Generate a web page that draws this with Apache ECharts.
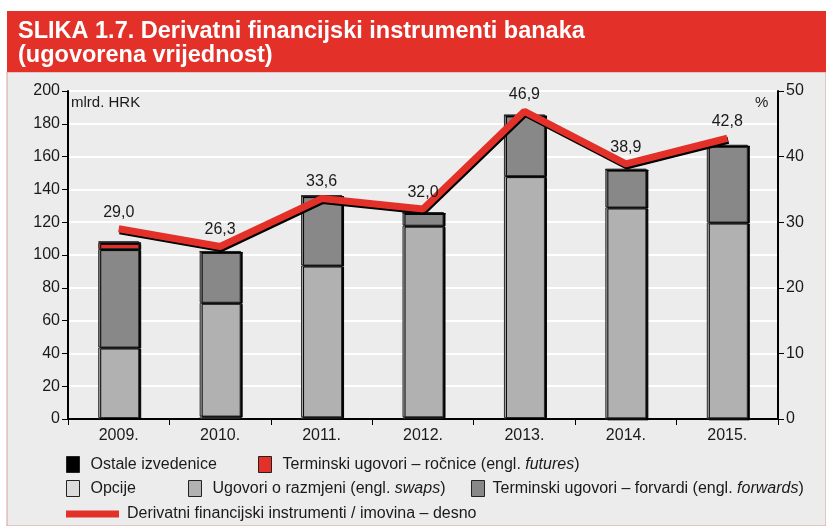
<!DOCTYPE html>
<html><head><meta charset="utf-8">
<script src="https://cdn.jsdelivr.net/npm/echarts@6/dist/echarts.min.js"></script>
<style>html,body{margin:0;padding:0;background:#fff}#c{width:826px;height:526px}</style>
</head><body><div id="c"></div>
<script>
const categories = ['2009.', '2010.', '2011.', '2012.', '2013.', '2014.', '2015.'];
const ostale   = [1.0, 0.3, 0.3, 0.3, 0.3, 0.3, 0.3];
const futures  = [3.8, 0.0, 0.0, 0.0, 0.0, 0.0, 0.0];
const opcije   = [0.6, 1.5, 1.0, 1.0, 0.6, 0.4, 0.4];
const swaps    = [43.0, 69.4, 92.6, 116.9, 147.5, 128.6, 119.4];
const forwards = [60.0, 31.1, 42.3, 7.8, 37.0, 23.1, 46.9];
const ratio    = [29.0, 26.3, 33.6, 32.0, 46.9, 38.9, 42.8];
const leftTicks = [0, 200, 20];
const rightTicks = [0, 50, 10];

const FONT = "'Liberation Sans', Arial, sans-serif";
const names = {
  ost: 'Ostale izvedenice',
  fut: 'Terminski ugovori – ročnice (engl. futures)',
  opc: 'Opcije',
  swp: 'Ugovori o razmjeni (engl. swaps)',
  fwd: 'Terminski ugovori – forvardi (engl. forwards)',
  rat: 'Derivatni financijski instrumenti / imovina – desno'
};
const richLabel = {
  [names.fut]: 'Terminski ugovori – ročnice (engl. {i|futures})',
  [names.swp]: 'Ugovori o razmjeni (engl. {i|swaps})',
  [names.fwd]: 'Terminski ugovori – forvardi (engl. {i|forwards})'
};
const legTextStyle = {color: '#1a1a1a', fontSize: 16, fontFamily: FONT,
  rich: {i: {fontStyle: 'italic', fontSize: 16, fontFamily: FONT, color: '#1a1a1a'}}};
function leg(name, left, top, w, h, color, gap) {
  return {left: left, top: top, itemWidth: w, itemHeight: h, padding: 0,
    selectedMode: false, textStyle: Object.assign({padding: [0, 0, 0, gap]}, legTextStyle),
    formatter: n => richLabel[n] || n,
    data: [{name: name, icon: 'rect',
      itemStyle: {color: color, borderColor: '#222', borderWidth: w > 20 ? 0 : 1}}]};
}
const barShadow = {borderColor: '#2a2a2a', borderWidth: 1, shadowColor: '#000', shadowOffsetX: 2, shadowOffsetY: 1, shadowBlur: 0};
function bar(name, data, color) {
  return {name: name, type: 'bar', stack: 'a', data: data, barWidth: 41,
    itemStyle: Object.assign({color: color}, barShadow)};
}
const chart = echarts.init(document.getElementById('c'), null, {renderer: 'canvas'});
chart.setOption({
  animation: false,
  backgroundColor: '#fff',
  graphic: [
    {type: 'rect', z: -10, shape: {x: 7, y: 72, width: 819, height: 454}, style: {fill: '#ececec', stroke: '#d7a09c', lineWidth: 1}},
    {type: 'rect', z: -10, shape: {x: 7, y: 11, width: 819, height: 61}, style: {fill: '#e3312a'}},
    {type: 'text', x: 18, y: 20, silent: true,
      style: {text: 'SLIKA 1.7. Derivatni financijski instrumenti banaka\n(ugovorena vrijednost)',
        font: 'bold 23.5px ' + FONT, fill: '#fff', lineHeight: 24}},
    {type: 'text', left: 71, top: 95, style: {text: 'mlrd. HRK', font: '15px ' + FONT, fill: '#1a1a1a'}},
    {type: 'text', left: 755, top: 95, style: {text: '%', font: '15px ' + FONT, fill: '#1a1a1a'}}
  ],
  legend: [
    leg(names.ost, 66, 456, 13, 16, '#000', 6),
    leg(names.fut, 258, 456, 13, 16, '#e3312a', 6),
    leg(names.opc, 66, 480, 13, 16, '#dcdcdc', 6),
    leg(names.swp, 188, 480, 13, 16, '#b1b1b1', 6),
    leg(names.fwd, 471, 480, 13, 16, '#888888', 3),
    leg(names.rat, 66, 506, 53, 7, '#e3312a', 3)
  ],
  grid: {left: 68, right: 48, top: 91, bottom: 107},
  xAxis: {type: 'category', data: categories,
    axisLine: {lineStyle: {color: '#000', width: 2}},
    axisTick: {show: true, length: 6, lineStyle: {color: '#000', width: 1}},
    axisLabel: {color: '#1a1a1a', fontSize: 16, fontFamily: FONT, margin: 9}},
  yAxis: [
    {type: 'value', min: leftTicks[0], max: leftTicks[1], interval: leftTicks[2],
      axisLine: {show: true, lineStyle: {color: '#000', width: 2}},
      axisTick: {show: true, length: 6, lineStyle: {color: '#000'}},
      axisLabel: {color: '#1a1a1a', fontSize: 16, fontFamily: FONT, margin: 8},
      splitLine: {lineStyle: {color: '#fff', width: 2}}},
    {type: 'value', min: rightTicks[0], max: rightTicks[1], interval: rightTicks[2], position: 'right',
      axisLine: {show: true, lineStyle: {color: '#000', width: 2}},
      axisTick: {show: true, length: 6, lineStyle: {color: '#000'}},
      axisLabel: {color: '#1a1a1a', fontSize: 16, fontFamily: FONT, margin: 8},
      splitLine: {show: false}}
  ],
  series: [
    bar(names.opc, opcije, '#dcdcdc'),
    bar(names.swp, swaps, '#b1b1b1'),
    bar(names.fwd, forwards, '#888888'),
    bar(names.fut, futures, '#e3312a'),
    bar(names.ost, ostale, '#000'),
    {name: names.rat, type: 'line', yAxisIndex: 1, data: ratio, symbol: 'circle', symbolSize: 1,
      showSymbol: true, z: 5,
      lineStyle: {color: '#e3312a', width: 7, shadowColor: '#000', shadowOffsetX: 1, shadowOffsetY: 2, shadowBlur: 0},
      itemStyle: {color: 'rgba(0,0,0,0)'},
      label: {show: true, position: 'top', distance: 8, color: '#1a1a1a', fontSize: 16, fontFamily: FONT,
        formatter: p => p.value.toFixed(1).replace('.', ',')}}
  ]
});
</script></body></html>
